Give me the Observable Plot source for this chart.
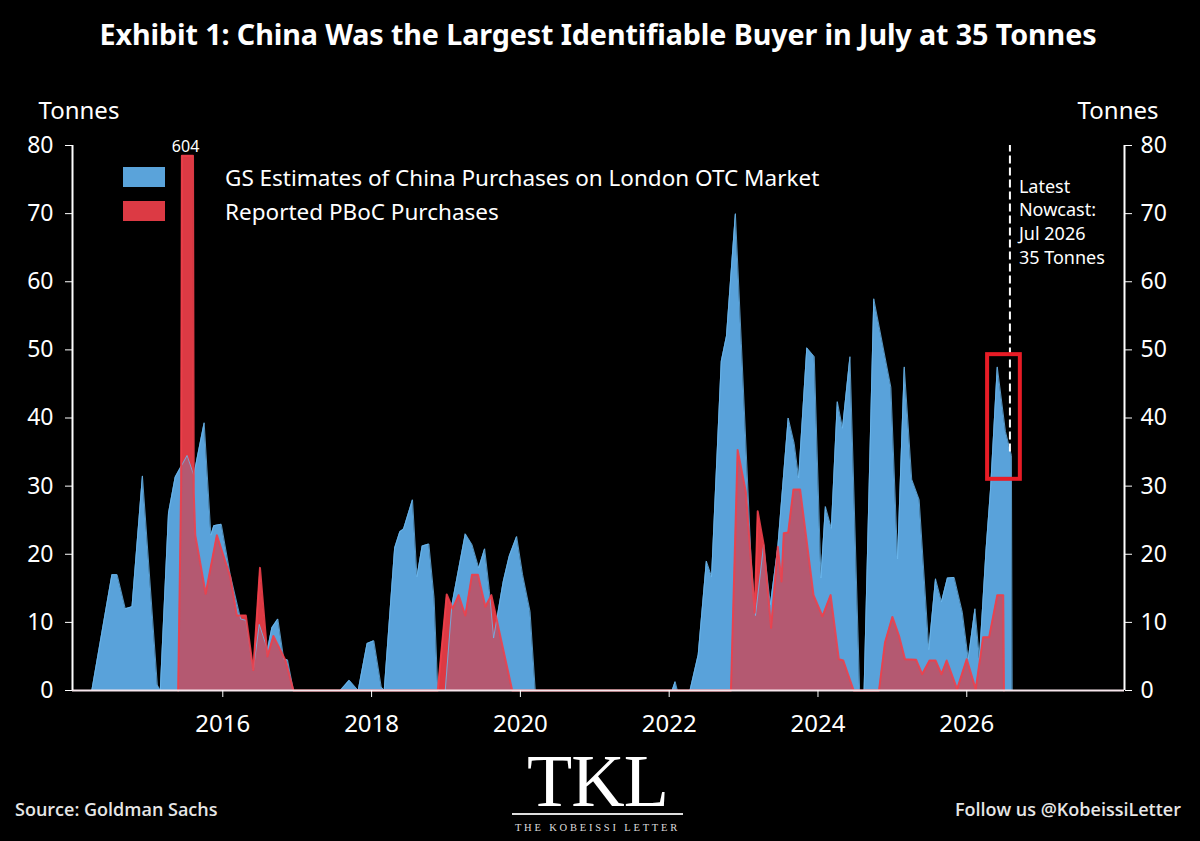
<!DOCTYPE html>
<html>
<head>
<meta charset="utf-8">
<script src="https://cdn.jsdelivr.net/npm/d3@7"></script>
<script src="https://cdn.jsdelivr.net/npm/@observablehq/plot@0.6"></script>
<style>
html,body{margin:0;padding:0;background:#000;width:1200px;height:841px;overflow:hidden;color:#fff;font-family:"Noto Sans",sans-serif}
#wrap{position:relative;width:1200px;height:841px}
#title{height:90px;box-sizing:border-box;padding-top:14px;text-align:center;font-size:28.7px;line-height:40px;font-weight:700;letter-spacing:-.1px;padding-right:4px;white-space:nowrap}
#chart{height:655px}
#chart svg{display:block}
#legend{position:absolute;left:123px;top:160px;font-size:22.5px}
.lg{display:flex;align-items:center;height:34px;white-space:nowrap}
.lg i{display:block;width:42px;height:20px;margin-right:60px}
#footer{position:relative;height:96px}
#source{position:absolute;left:15px;top:52px;font:600 18px "Open Sans",sans-serif;color:#e6e6e6}
#follow{position:absolute;right:19px;top:52px;font:600 18px "Open Sans",sans-serif;color:#e6e6e6}
#logo{position:absolute;left:512px;top:0;width:171px;text-align:center;font-family:"Liberation Serif",serif;color:#fff}
#logo .m{font-size:74px;line-height:64px;letter-spacing:-1px;height:64px;margin-top:4px;white-space:nowrap}
#logo .r{height:2px;background:#ddd}
#logo .s{font-size:10.5px;letter-spacing:2.8px;line-height:13px;margin-top:6px;white-space:nowrap;color:#ddd}
</style>
</head>
<body>
<div id="wrap">
<div id="title">Exhibit 1: China Was the Largest Identifiable Buyer in July at 35 Tonnes</div>
<div id="chart"></div>
<div id="footer">
  <div id="source">Source: Goldman Sachs</div>
  <div id="logo"><div class="m">TKL</div><div class="r"></div><div class="s">THE KOBEISSI LETTER</div></div>
  <div id="follow">Follow us @KobeissiLetter</div>
</div>
<div id="legend">
  <div class="lg"><i style="background:#5aa3da"></i><span id="l1"></span></div>
  <div class="lg"><i style="background:#dc3a44"></i><span id="l2"></span></div>
</div>
</div>
<script>
const blueName = "GS Estimates of China Purchases on London OTC Market";
const redName = "Reported PBoC Purchases";
const yTicks = [0,10,20,30,40,50,60,70,80];
const xTicks = [2016,2018,2020,2022,2024,2026];
const blueYears = [2014.24,2014.51,2014.58,2014.69,2014.78,2014.92,2015.12,2015.16,2015.27,2015.36,2015.52,2015.61,2015.75,2015.84,2015.88,2015.98,2016.10,2016.24,2016.31,2016.41,2016.49,2016.60,2016.66,2016.74,2016.82,2016.87,2016.95,
 2017.58,2017.70,2017.82,2017.94,2018.03,2018.13,2018.17,2018.31,2018.38,2018.43,2018.55,2018.61,2018.68,2018.77,2018.84,2018.89,2018.99,2019.08,2019.26,2019.35,2019.44,2019.52,2019.58,2019.64,2019.77,2019.85,2019.95,2020.03,2020.13,2020.20,
 2022.04,2022.08,2022.11,2022.28,2022.39,2022.50,2022.57,2022.70,2022.77,2022.89,2022.97,2023.10,2023.16,2023.27,2023.36,2023.46,2023.60,2023.68,2023.74,2023.85,2023.95,2024.04,2024.10,2024.18,2024.26,2024.33,2024.43,2024.56,2024.62,2024.75,2024.98,2025.07,2025.16,2025.26,2025.36,2025.49,2025.58,2025.66,2025.74,2025.83,2025.94,2026.02,2026.11,2026.17,2026.26,2026.32,2026.41,2026.52,2026.60,2026.61];
const blueTonnes = [0,17,17,12,12.3,31.5,0.8,0,26,31.3,34.5,31.6,39.3,22.8,24.2,24.4,17,10.5,10.3,3,9.7,6,9.2,10.5,4.6,4.5,0,
 0,1.5,0,6.9,7.3,0.5,0,20.9,23.3,23.7,28,16.7,21.2,21.5,13.6,0,0,12.6,23,21.4,18,20.8,15,7.7,16,19.7,22.6,17,11.6,0,
 0,1.3,0,0,5.2,19,16.7,48.3,52,70,51,19.4,11,21.4,12.6,21,40,36.3,31.2,50.3,49,16.5,27,23.8,42.4,38.5,49,0,0,57.5,44.5,19.3,47.5,31,28,6,16.4,13,16.5,16.6,11.5,4.6,12,4.6,20.8,29.6,47.5,38,34.5,0];
const redYears = [2015.40,2015.44,2015.45,2015.60,2015.61,2015.63,2015.68,2015.77,2015.92,2016.10,2016.19,2016.31,2016.41,2016.50,2016.60,2016.68,2016.84,2016.95,
 2018.89,2019.01,2019.09,2019.17,2019.26,2019.35,2019.43,2019.53,2019.61,2019.89,
 2022.83,2022.92,2023.03,2023.15,2023.19,2023.27,2023.37,2023.46,2023.51,2023.54,2023.60,2023.67,2023.76,2023.94,2024.06,2024.17,2024.28,2024.34,2024.48,
 2024.82,2024.90,2025.00,2025.09,2025.17,2025.32,2025.40,2025.50,2025.58,2025.66,2025.73,2025.87,2026.00,2026.12,2026.22,2026.30,2026.41,2026.49,2026.50];
const redTonnes = [0,30,78.5,78.5,29,22.8,19.8,14.2,22.8,16.7,11,11,3,18,5,8,4.5,0,
 0,14.1,12,14,11,17,17,12.3,14,0,
 0,35.3,29.2,11.4,26.3,21.4,9.2,21.1,16,23.1,23.2,29.5,29.5,14,10.9,14,4.6,4.4,0,
 0,7,10.8,8,4.6,4.5,2.4,4.4,4.4,2.4,4.4,0.2,4.6,0.2,7.8,7.8,14,14,0];
const spikeLabel = "604";
const spikeYear = 2015.5;
const nowcastYear = 2026.58;
const nowcastValue = 35;
const nowcastText = "Latest\nNowcast:\nJul 2026\n35 Tonnes";
const boxYears = [2026.28,2026.72];
const boxTonnes = [31,49.3];
const xDomain = [2013.98,2028.12];
const blue = "#5aa3da", blueEdge = "#6cb8ee", red = "#dc3a44", redEdge = "#ee3f4a";

document.getElementById("l1").textContent = blueName;
document.getElementById("l2").textContent = redName;

const plot = Plot.plot({
  width:1200, height:655,
  marginTop:55, marginBottom:55, marginLeft:72, marginRight:76,
  style:{background:"#000",color:"#fff",fontFamily:'"Noto Sans",sans-serif'},
  x:{domain:xDomain,label:null},
  y:{domain:[0,80],label:null},
  marks:[
    Plot.areaY(blueTonnes,{x:blueYears,y:blueTonnes,fill:blue}),
    Plot.areaY(redTonnes,{x:redYears,y:redTonnes,fill:red}),
    Plot.areaY(blueTonnes,{x:blueYears,y:blueTonnes,fill:blue,fillOpacity:0.3}),
    Plot.lineY(blueTonnes,{x:blueYears,y:blueTonnes,stroke:blueEdge,strokeWidth:1,strokeOpacity:0.8}),
    Plot.lineY(redTonnes,{x:redYears,y:redTonnes,stroke:redEdge,strokeWidth:2,strokeOpacity:0.9}),
    Plot.ruleX([nowcastYear],{y1:nowcastValue,y2:80,stroke:"#fff",strokeWidth:2,strokeDasharray:"8,4"}),
    Plot.rect([0],{x1:boxYears[0],x2:boxYears[1],y1:boxTonnes[0],y2:boxTonnes[1],stroke:"#e81c26",strokeWidth:4,fill:"none"}),
    Plot.ruleY([0],{stroke:"#f7e6ec",strokeWidth:2}),
    Plot.ruleX([xDomain[0],xDomain[1]],{y1:0,y2:80,stroke:"#fff",strokeWidth:2}),
    Plot.axisY({anchor:"left",ticks:yTicks,tickSize:7,tickPadding:12,fontSize:23,label:null,tickFormat:"d"}),
    Plot.axisY({anchor:"right",ticks:yTicks,tickSize:7,tickPadding:9,fontSize:23,label:null,tickFormat:"d"}),
    Plot.axisX({anchor:"bottom",ticks:xTicks,tickSize:7,tickPadding:17,fontSize:24,label:null,tickFormat:"d"}),
    Plot.text(["Tonnes"],{x:xDomain[0],y:80,dx:-34,dy:-34,textAnchor:"start",fontSize:24,fill:"#fff"}),
    Plot.text(["Tonnes"],{x:xDomain[1],y:80,dx:34,dy:-34,textAnchor:"end",fontSize:24,fill:"#fff"}),
    Plot.text([spikeLabel],{x:spikeYear,y:80,dy:1,fontSize:16,fill:"#fff"}),
    Plot.text([nowcastText],{x:nowcastYear,y:80,dx:9,dy:30,textAnchor:"start",lineAnchor:"top",lineHeight:1.33,fontSize:18,fill:"#fff"})
  ]
});
document.getElementById("chart").appendChild(plot);
</script>
</body>
</html>
